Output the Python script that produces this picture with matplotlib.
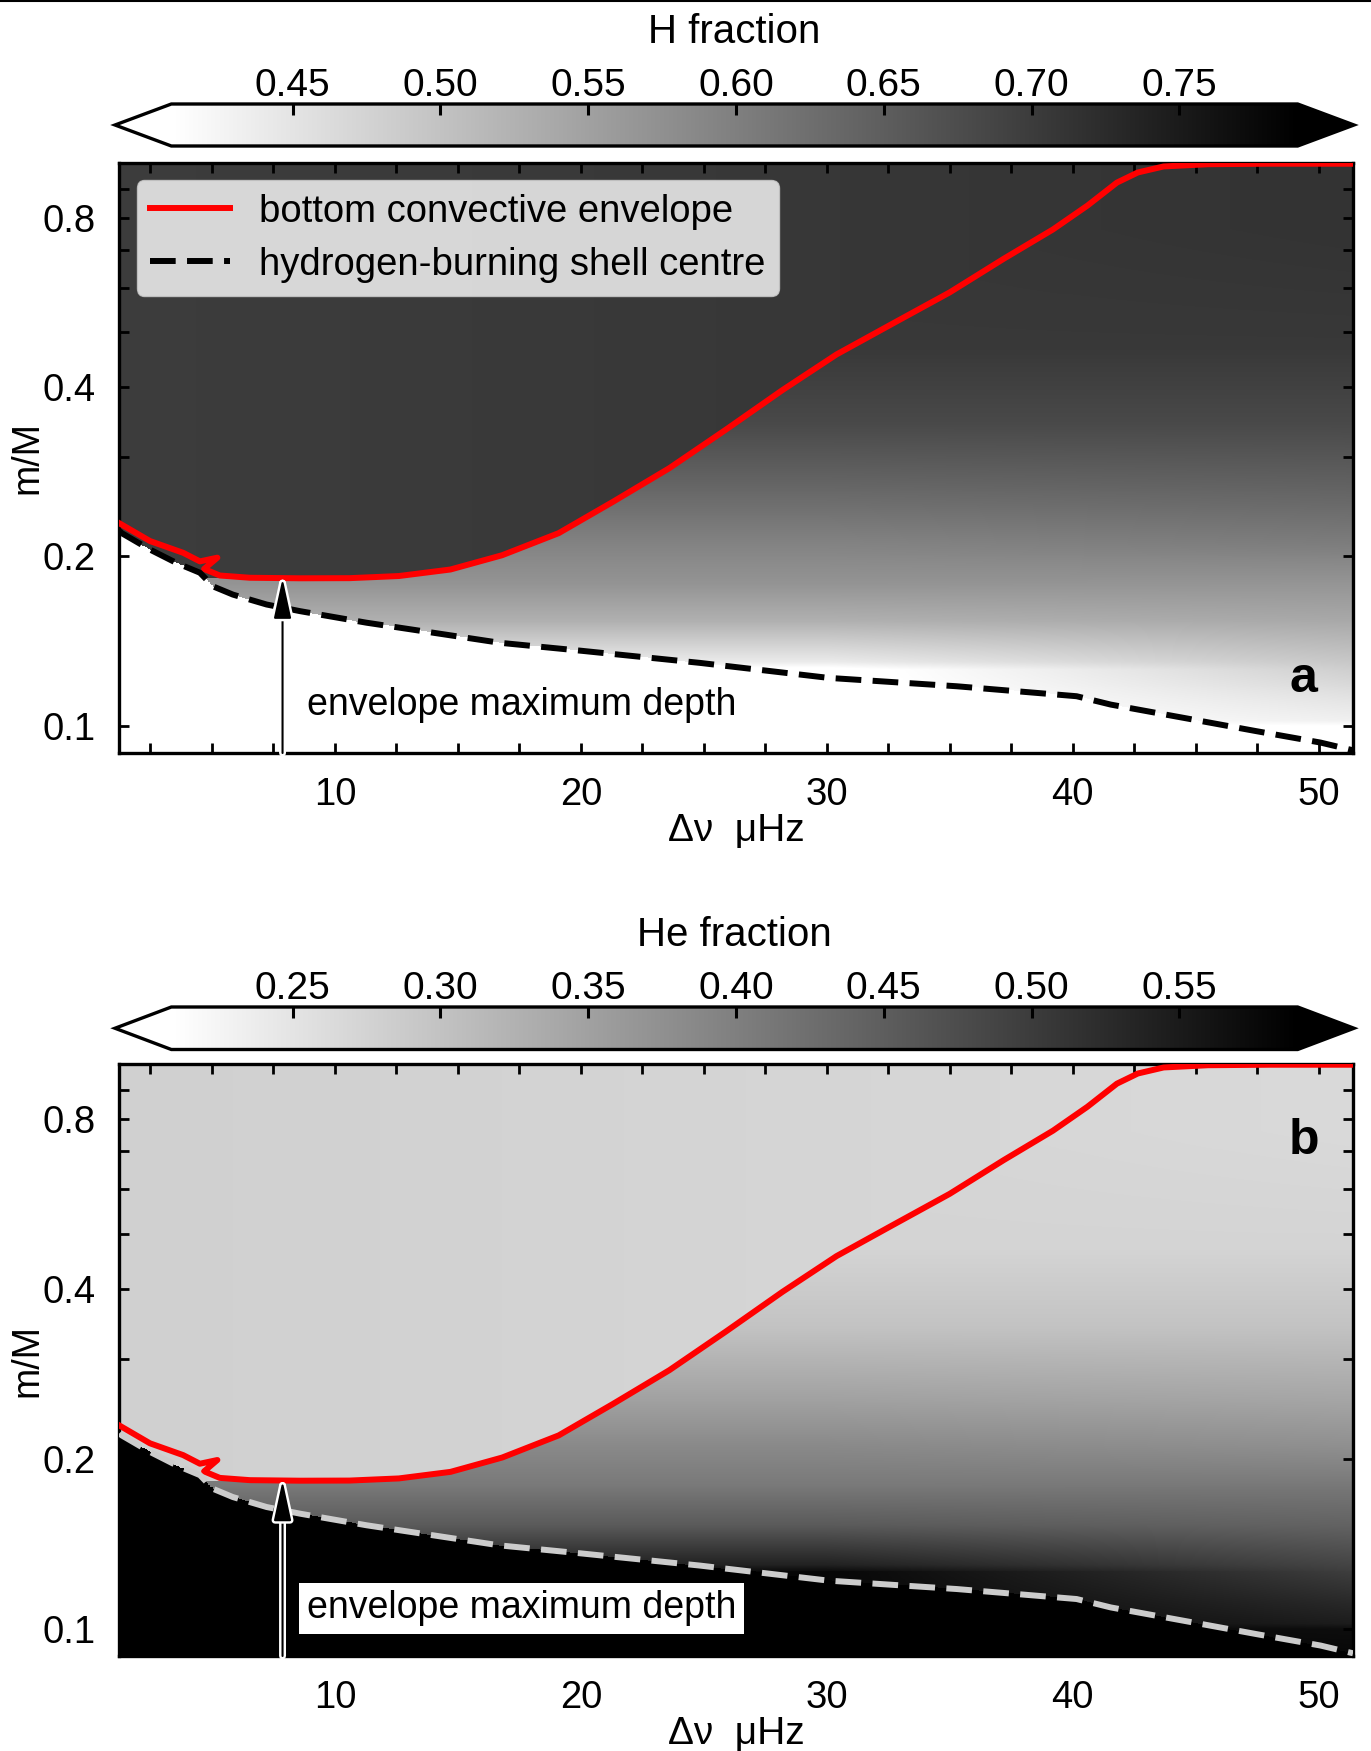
import numpy as np
import matplotlib.pyplot as plt
from matplotlib import patheffects
from matplotlib.ticker import FixedLocator, MultipleLocator, NullFormatter, FormatStrFormatter

plt.rcParams['font.family'] = ['Liberation Sans', 'DejaVu Sans']

# bottom of the convective envelope (red line)
env_x = np.array([1.24, 2.48, 3.83, 4.51, 5.22, 4.68, 5.32, 6.54, 8.58, 10.6, 12.6, 14.7,
                  16.8, 19.1, 21.3, 23.6, 25.9, 28.2, 30.4, 32.7, 35.0, 37.2, 39.2, 40.6,
                  41.8, 42.65, 43.7, 45.5, 48.0, 51.4])
env_m = np.array([0.229, 0.213, 0.203, 0.196, 0.199, 0.190, 0.185, 0.1833, 0.1829, 0.183,
                  0.1846, 0.1896, 0.201, 0.220, 0.250, 0.287, 0.336, 0.395, 0.457, 0.519,
                  0.589, 0.676, 0.762, 0.840, 0.923, 0.962, 0.986, 0.995, 0.997, 0.997])

# centre of the hydrogen-burning shell (dashed line)
shell_x = np.array([1.24, 1.33, 2.48, 3.56, 4.51, 5.05, 5.85, 7.22, 8.58, 11.29, 13.99,
                    16.7, 20.0, 24.84, 30.07, 35.28, 40.16, 41.55, 44.85, 47.45, 50.08, 51.4])
shell_m = np.array([0.222, 0.220, 0.2057, 0.1947, 0.1871, 0.1769, 0.1711, 0.1643, 0.1599,
                    0.1525, 0.1464, 0.1405, 0.136, 0.1294, 0.1217, 0.1176, 0.1129, 0.1091,
                    0.1027, 0.0979, 0.0934, 0.0905])

# H fraction inside the convective envelope
envH_x = np.array([1.24, 10.0, 30.0, 51.4])
envH = np.array([0.700, 0.702, 0.708, 0.714])

# H fraction profile in the radiative zone (at dnu = 30 and at the right edge)
prof_m = np.array([0.089, 0.100, 0.1022, 0.1105, 0.126, 0.130, 0.1527, 0.179, 0.211,
                   0.247, 0.342, 0.470, 0.761, 1.0])
prof_H30 = np.array([0.40, 0.40, 0.40, 0.40, 0.40, 0.44, 0.525, 0.570, 0.595,
                     0.625, 0.680, 0.706, 0.708, 0.708])
prof_H51 = np.array([0.40, 0.41, 0.432, 0.449, 0.482, 0.492, 0.537, 0.568, 0.604,
                     0.632, 0.680, 0.706, 0.714, 0.714])
Z = 0.02

maxdepth_x, maxdepth_m = 7.87, 0.183
xlim = (1.24, 51.4)
ylim = (0.0895, 1.0)

# build the composition maps on a grid
xg = np.linspace(xlim[0], xlim[1], 800)
mg = np.geomspace(ylim[0], ylim[1], 600)
X, M = np.meshgrid(xg, mg)

runmax = np.maximum.accumulate(env_x)
keep = np.r_[True, env_x[1:] > runmax[:-1]]
env_line = np.interp(xg, env_x[keep], env_m[keep])
deepest = np.minimum.accumulate(env_line[::-1])[::-1]
shell_line = np.interp(xg, shell_x, shell_m)
Henv = np.interp(xg, envH_x, envH)

w = np.clip((xg - 30.0) / (51.4 - 30.0), 0, 1)
lm = np.log(mg)
p30 = np.interp(lm, np.log(prof_m), prof_H30)
p51 = np.interp(lm, np.log(prof_m), prof_H51)
Hprof = p30[:, None] * (1 - w[None, :]) + p51[:, None] * w[None, :]

Hmap = np.where(M >= deepest[None, :], Henv[None, :], Hprof)
Hmap = np.where(M <= shell_line[None, :], 0.0, Hmap)
Hemap = 1.0 - Z - Hmap

fig = plt.figure(figsize=(13.71, 17.51), dpi=100)
W, HH = 1371, 1751


def fr(l, t, r, b):
    return [l / W, 1 - b / HH, (r - l) / W, (b - t) / HH]


ax_a = fig.add_axes(fr(119.5, 163, 1353, 753))
ax_b = fig.add_axes(fr(119.5, 1064, 1353, 1656))
cax_a = fig.add_axes(fr(115, 104, 1354, 146))
cax_b = fig.add_axes(fr(115, 1007, 1354, 1049.5))


def panel(ax, cax, field, vmin, vmax, ticks, cblabel, shell_color, letter, letter_y):
    mesh = ax.pcolormesh(xg, mg, field, cmap='gray_r', vmin=vmin, vmax=vmax,
                         shading='nearest', rasterized=True)
    ax.plot(env_x, env_m, color='red', lw=4.3, zorder=4, solid_joinstyle='round',
            label='bottom convective envelope')
    ax.plot(shell_x, shell_m, color=shell_color, lw=4.3, dashes=(4.3, 1.9), zorder=4,
            label='hydrogen-burning shell centre')
    ax.set_yscale('log')
    ax.set_xlim(*xlim)
    ax.set_ylim(*ylim)
    ax.xaxis.set_major_locator(FixedLocator([10, 20, 30, 40, 50]))
    ax.xaxis.set_minor_locator(MultipleLocator(2.5))
    ax.yaxis.set_major_locator(FixedLocator([0.1, 0.2, 0.4, 0.8]))
    ax.yaxis.set_major_formatter(FormatStrFormatter('%.1f'))
    ax.yaxis.set_minor_locator(FixedLocator([0.3, 0.5, 0.6, 0.7, 0.9]))
    ax.yaxis.set_minor_formatter(NullFormatter())
    ax.tick_params(which='both', direction='in', length=7, width=2, top=True, right=True,
                   labelsize=27.5)
    ax.tick_params(axis='x', which='both', pad=17)
    ax.tick_params(axis='y', which='both', pad=17)
    for s in ax.spines.values():
        s.set_linewidth(2.4)
    ax.set_xlabel('Δν  μHz', fontsize=28)
    ax.xaxis.set_label_coords(0.5, -0.102)
    ax.set_ylabel('m/M', fontsize=27)
    ax.yaxis.set_label_coords(-0.06, 0.5)

    ax.text(0.152, 0.081, 'envelope maximum depth', transform=ax.transAxes, fontsize=27,
            ha='left', va='center', zorder=5,
            bbox=dict(boxstyle='square,pad=0.2', fc='white', ec='none'))
    ann = ax.annotate('', xy=(maxdepth_x, maxdepth_m), xytext=(maxdepth_x, ylim[0]),
                      arrowprops=dict(arrowstyle='-|>,head_length=1.25,head_width=0.27',
                                      mutation_scale=20, lw=1.5, color='black',
                                      shrinkA=0, shrinkB=0),
                      annotation_clip=False, zorder=6)
    ann.arrow_patch.set_path_effects([patheffects.withStroke(linewidth=5, foreground='white')])
    ax.text(0.96, letter_y, letter, transform=ax.transAxes, fontsize=36, fontweight='bold',
            ha='center', va='baseline', zorder=5)

    cb = fig.colorbar(mesh, cax=cax, orientation='horizontal', extend='both', ticks=ticks)
    cb.ax.xaxis.set_ticks_position('top')
    cb.ax.xaxis.set_label_position('top')
    cb.ax.xaxis.set_major_formatter(FormatStrFormatter('%.2f'))
    cb.ax.minorticks_off()
    cb.ax.tick_params(direction='in', length=8, width=2.2, labelsize=28, pad=0)
    cb.outline.set_linewidth(2.4)
    cb.set_label(cblabel, fontsize=29, labelpad=18)
    return ax


panel(ax_a, cax_a, Hmap, 0.409, 0.790, [0.45, 0.50, 0.55, 0.60, 0.65, 0.70, 0.75],
      'H fraction', 'black', 'a', 0.103)
panel(ax_b, cax_b, Hemap, 0.209, 0.590, [0.25, 0.30, 0.35, 0.40, 0.45, 0.50, 0.55],
      'He fraction', '#cccccc', 'b', 0.848)

ax_a.legend(loc='upper left', fontsize=27.5, handlelength=2.1, handletextpad=0.75,
            labelspacing=0.45, borderaxespad=0.45, borderpad=0.35)

fig.add_artist(plt.Line2D([0, 1], [1 - 1.0 / HH] * 2, color='black', lw=1.5,
                          transform=fig.transFigure))

fig.savefig('out.png', dpi=100)
